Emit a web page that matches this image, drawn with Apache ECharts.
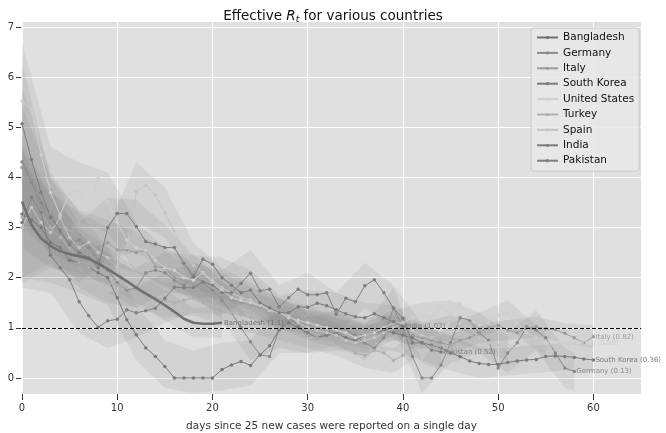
<!DOCTYPE html>
<html><head><meta charset="utf-8">
<script src="https://cdn.jsdelivr.net/npm/echarts@6/dist/echarts.min.js"></script>
<style>html,body{margin:0;padding:0;background:#fff}#c{width:666px;height:433px}</style>
</head><body><div id="c"></div>
<script>
// ---- data (day index starts at 0 for each series) ----
const countries = ['Bangladesh','Germany','Italy','South Korea','United States','Turkey','Spain','India','Pakistan'];
const endLabels = ['Bangladesh (1.1)','Germany (0.13)','Italy (0.82)','South Korea (0.36)','United States (0.69)','Turkey (0.61)','Spain (0.59)','India (1.03)','Pakistan (0.52)'];

const bangladesh = [3.52,3.05,2.78,2.63,2.53,2.47,2.43,2.38,2.28,2.17,2.05,1.93,1.8,1.68,1.57,1.45,1.32,1.18,1.1,1.08,1.08,1.1];
const germany = [4.31,3.9,3.5,3.3,2.9,2.7,2.75,2.6,2.35,2.15,1.9,1.75,1.8,2.1,2.15,2.1,1.95,1.85,2.05,1.9,1.75,1.55,1.3,1.0,0.72,0.46,0.43,0.96,1.2,1.05,0.85,0.8,0.9,1.0,0.95,0.85,0.7,0.6,0.8,1.4,1.02,0.43,0.0,0.0,0.26,0.7,1.2,1.15,0.9,0.75,0.2,0.5,0.7,1.02,0.95,0.8,0.5,0.2,0.13];
const italy = [4.2,3.75,3.6,3.3,3.1,3.0,2.85,2.7,2.6,2.7,2.55,2.55,2.5,2.55,2.22,2.2,2.0,1.95,1.85,1.75,1.7,1.6,1.55,1.5,1.45,1.4,1.35,1.3,1.2,1.15,1.2,1.1,1.05,1.0,0.95,0.9,0.85,0.9,1.0,0.95,0.9,0.85,0.8,0.75,0.7,0.65,0.75,0.8,0.9,1.0,1.05,0.95,0.9,1.0,1.02,0.98,0.96,0.89,0.8,0.7,0.82];
const southKorea = [3.27,3.15,3.0,2.7,2.6,2.35,2.3,2.2,2.1,2.0,1.6,1.16,0.86,0.6,0.43,0.23,0,0,0,0,0,0.17,0.26,0.33,0.25,0.46,0.64,0.96,1.1,1.0,0.9,0.8,0.85,0.9,0.8,0.75,0.85,0.9,0.95,0.9,0.85,0.8,0.7,0.65,0.6,0.5,0.43,0.34,0.29,0.27,0.27,0.31,0.34,0.36,0.37,0.43,0.44,0.43,0.41,0.38,0.36];
const unitedStates = [5.52,5.35,4.45,3.7,3.25,3.7,3.74,3.3,3.99,3.52,3.1,2.75,2.6,2.55,2.35,2.2,2.15,2.0,1.95,2.1,1.9,1.75,1.6,1.55,1.5,1.45,1.35,1.3,1.2,1.15,1.1,1.05,1.0,0.95,0.9,0.8,0.85,0.9,1.0,1.1,1.1,1.2,1.25,1.2,1.42,1.28,1.49,1.2,1.05,1.1,1.25,1.28,1.1,0.9,0.8,0.69];
const turkey = [3.2,3.6,3.3,3.0,2.8,2.6,2.3,2.2,2.0,1.9,1.85,1.8,1.75,1.7,1.6,1.55,1.5,1.55,1.6,1.5,1.4,1.35,1.3,1.25,1.2,1.1,1.05,1.0,0.95,0.9,0.85,0.8,0.75,0.7,0.6,0.5,0.45,0.55,0.5,0.35,0.45,0.61];
const spain = [3.0,3.4,3.1,2.9,3.2,2.8,2.6,2.7,2.5,2.4,2.2,2.6,3.72,3.84,3.65,3.29,2.92,2.52,2.25,2.1,1.95,1.8,1.7,1.6,1.55,1.45,1.35,1.3,1.25,1.1,1.0,0.95,0.9,0.85,0.75,0.7,0.75,0.8,0.9,1.0,1.1,0.95,0.85,0.8,0.9,1.0,1.1,1.0,0.8,0.7,0.65,0.59];
const india = [5.07,4.35,3.7,3.2,2.95,2.65,2.5,2.4,2.2,3.0,3.28,3.28,3.02,2.72,2.67,2.6,2.6,2.29,2.02,2.37,2.27,2.0,1.85,1.7,1.75,1.5,1.4,1.3,1.3,1.42,1.41,1.49,1.44,1.36,1.28,1.22,1.2,1.28,1.2,1.12,1.03];
const pakistan = [3.1,3.6,3.3,2.45,2.2,1.96,1.52,1.24,1.01,1.14,1.17,1.36,1.3,1.34,1.39,1.59,1.81,1.8,1.8,1.92,1.85,1.7,1.7,1.89,2.09,1.74,1.77,1.42,1.6,1.77,1.66,1.66,1.7,1.27,1.59,1.52,1.84,1.96,1.7,1.39,1.19,0.7,0.7,0.56,0.52];

// credible bands: [day, low, high]
const bangladeshBand = [[0,2.6,4.6],[3,2.2,3.1],[6,2.1,2.8],[9,1.85,2.5],[12,1.5,2.1],[15,1.15,1.75],[18,0.8,1.4],[21,0.8,1.4]];
const germanyBand = [[0,3.0,5.8],[3,2.5,4.1],[6,2.2,3.3],[9,1.7,2.6],[12,1.4,2.2],[15,1.7,2.5],[18,1.65,2.45],[21,1.15,1.95],[24,0.35,1.1],[27,0.6,1.3],[30,0.5,1.2],[33,0.65,1.35],[36,0.35,1.05],[39,1.0,1.8],[42,-0.3,0.35],[45,0.3,1.1],[48,0.5,1.3],[51,0.1,0.9],[54,0.55,1.35],[57,-0.2,0.6],[58,-0.25,0.5]];
const italyBand = [[0,3.1,5.4],[3,2.6,4.0],[6,2.35,3.35],[9,2.25,3.15],[12,2.1,2.9],[15,1.85,2.55],[18,1.55,2.15],[21,1.3,1.9],[24,1.2,1.7],[27,1.05,1.55],[30,0.95,1.45],[33,0.8,1.2],[36,0.65,1.05],[39,0.75,1.15],[42,0.6,1.0],[45,0.45,0.85],[48,0.7,1.1],[51,0.75,1.15],[54,0.82,1.22],[57,0.69,1.09],[60,0.6,1.05]];
const southKoreaBand = [[0,2.0,4.7],[3,1.9,3.6],[6,1.7,3.0],[9,1.45,2.6],[12,0.35,1.45],[15,-0.2,0.75],[18,-0.3,0.55],[21,-0.25,0.7],[24,-0.15,0.75],[27,0.5,1.45],[30,0.5,1.35],[33,0.55,1.3],[36,0.5,1.2],[39,0.55,1.25],[42,0.35,1.05],[45,0.15,0.85],[48,0.0,0.6],[51,0.05,0.6],[54,0.1,0.65],[57,0.15,0.7],[60,0.1,0.65]];
const unitedStatesBand = [[0,4.3,6.7],[3,2.9,4.6],[6,3.1,4.3],[9,2.9,4.1],[12,2.1,3.1],[15,1.8,2.6],[18,1.6,2.3],[21,1.4,2.1],[24,1.2,1.8],[27,1.0,1.6],[30,0.85,1.35],[33,0.7,1.2],[36,0.6,1.1],[39,0.85,1.35],[42,1.0,1.5],[45,1.05,1.55],[48,0.8,1.3],[51,1.0,1.55],[54,0.55,1.05],[55,0.45,0.95]];
const turkeyBand = [[0,2.0,4.5],[3,2.3,3.8],[6,1.8,2.9],[9,1.5,2.4],[12,1.4,2.15],[15,1.2,1.9],[18,1.25,1.95],[21,1.05,1.7],[24,0.9,1.5],[27,0.75,1.3],[30,0.6,1.1],[33,0.45,0.95],[36,0.2,0.7],[39,0.1,0.6],[41,0.35,0.85]];
const spainBand = [[0,1.9,4.3],[3,2.2,3.7],[6,2.0,3.3],[9,1.9,3.0],[12,3.1,4.3],[15,2.8,3.8],[18,1.85,2.7],[21,1.45,2.2],[24,1.2,1.9],[27,1.0,1.6],[30,0.75,1.3],[33,0.6,1.1],[36,0.5,1.0],[39,0.75,1.3],[42,0.6,1.1],[45,0.75,1.25],[48,0.55,1.05],[51,0.35,0.85]];
const indiaBand = [[0,3.6,6.3],[3,2.4,4.0],[6,1.9,3.1],[9,2.4,3.6],[12,2.5,3.55],[15,2.15,3.05],[18,1.6,2.45],[21,1.6,2.4],[24,1.35,2.15],[27,0.95,1.65],[30,1.05,1.75],[33,1.0,1.7],[36,0.9,1.5],[39,0.8,1.45],[40,0.7,1.35]];
const pakistanBand = [[0,1.8,4.4],[3,1.7,3.2],[6,0.9,2.15],[9,0.6,1.7],[12,0.8,1.8],[15,1.1,2.1],[18,1.3,2.3],[21,1.25,2.15],[24,1.6,2.55],[27,1.0,1.85],[30,1.25,2.1],[33,0.85,1.7],[36,1.4,2.3],[39,0.95,1.85],[42,0.3,1.1],[44,0.15,0.9]];

// ---- styling ----
const seriesValues = [bangladesh,germany,italy,southKorea,unitedStates,turkey,spain,india,pakistan];
const seriesBands = [bangladeshBand,germanyBand,italyBand,southKoreaBand,unitedStatesBand,turkeyBand,spainBand,indiaBand,pakistanBand];
const colors = ['#707070','#8a8a8a','#9c9c9c','#7a7a7a','#cfcfcf','#afafaf','#c4c4c4','#7c7c7c','#7f7f7f'];
const FONT = 'DejaVu Sans';

// layout of plot area: x 0..65, y -0.32..7.1
const X_MAX = 65, Y_MIN = -0.32, Y_MAX = 7.1;
const W = 666, H = 433, LEFT = 22, RIGHT = 25, TOP = 22, BOTTOM = 39;
const pxPerY = (H - TOP - BOTTOM) / (Y_MAX - Y_MIN);
const pxPerX = (W - LEFT - RIGHT) / X_MAX;
const yTickTop = TOP + (Y_MAX - 7) * pxPerY, yTickBottom = BOTTOM + (0 - Y_MIN) * pxPerY;
const xTickRight = RIGHT + (X_MAX - 60) * pxPerX;

const series = [];
seriesBands.forEach(function(band, k){
  series.push({
    type: 'custom', name: 'band-' + countries[k], silent: true, z: 1, clip: true,
    data: [[band[0][0], band[0][1]]], encode: {x: 0, y: 1},
    renderItem: function(params, api){
      const pts = [];
      for (let i = 0; i < band.length; i++) pts.push(api.coord([band[i][0], band[i][2]]));
      for (let i = band.length - 1; i >= 0; i--) pts.push(api.coord([band[i][0], band[i][1]]));
      return {type: 'polygon', shape: {points: pts}, style: {fill: 'rgba(120,120,120,0.13)'}};
    }
  });
});
seriesValues.forEach(function(vals, k){
  const isB = k === 0;
  const s = {
    type: 'line', name: countries[k], z: isB ? 4 : 3,
    data: vals.map(function(v, i){ return [i, v]; }),
    symbol: isB ? 'none' : 'circle', symbolSize: 3.5, showAllSymbol: true,
    lineStyle: {color: colors[k], width: isB ? 2.6 : 1},
    itemStyle: {color: colors[k]},
    emphasis: {disabled: true},
    endLabel: {show: true, formatter: endLabels[k], fontSize: 7, fontFamily: FONT, color: colors[k], distance: 2}
  };
  if (k === 0) {
    s.markLine = {silent: true, symbol: ['none','none'], label: {show: false},
      lineStyle: {color: '#000', type: [4,2], width: 1}, data: [{yAxis: 1}]};
  }
  series.push(s);
});

const tickLine = {show: true, lineStyle: {color: '#333333', width: 1}};
const chart = echarts.init(document.getElementById('c'), null, {renderer: 'canvas'});
chart.setOption({
  animation: false,
  backgroundColor: '#ffffff',
  title: {
    text: 'Effective {i|R}{s|t} for various countries',
    left: 'center', top: 3,
    textStyle: {fontSize: 13.5, fontWeight: 'normal', color: '#111', fontFamily: FONT,
      rich: {i: {fontStyle: 'italic', fontSize: 13.5, fontFamily: FONT, color: '#111'},
             s: {fontStyle: 'italic', fontSize: 9, fontFamily: FONT, color: '#111', padding: [7,0,0,0]}}}
  },
  legend: {
    data: countries, orient: 'vertical', left: 531, top: 28,
    backgroundColor: 'rgba(232,232,232,0.85)', borderColor: '#c8c8c8', borderWidth: 1, borderRadius: 3,
    padding: [3, 5, 4, 5], itemGap: 2.4, itemWidth: 21, itemHeight: 4,
    textStyle: {fontSize: 10.5, fontFamily: FONT, color: '#111', lineHeight: 13}
  },
  grid: [
    // 0: data plot
    {left: LEFT, right: RIGHT, top: TOP, bottom: BOTTOM, show: true, backgroundColor: '#e0e0e0', borderWidth: 0,
      containLabel: false, outerBoundsMode: 'none'},
    // 1: 0..7 value axis (labels + white grid lines)
    {left: LEFT, right: RIGHT, top: yTickTop, bottom: yTickBottom, show: false, containLabel: false, outerBoundsMode: 'none'},
    // 2: x tick marks strip
    {left: LEFT, right: xTickRight, top: H - BOTTOM, height: 6, show: false, containLabel: false, outerBoundsMode: 'none'},
    // 3: y tick marks strip
    {left: LEFT - 6, right: W - LEFT + 1, top: yTickTop, bottom: yTickBottom, show: false, containLabel: false, outerBoundsMode: 'none'}
  ],
  xAxis: [{
    type: 'value', min: 0, max: X_MAX, interval: 10, gridIndex: 0,
    name: 'days since 25 new cases were reported on a single day', nameLocation: 'middle', nameGap: 27,
    nameTextStyle: {fontSize: 10.5, fontFamily: FONT, color: '#333'},
    axisLine: {show: false, onZero: false},
    axisTick: {show: false},
    axisLabel: {fontSize: 10, fontFamily: FONT, color: '#333', margin: 9, showMaxLabel: false},
    splitLine: {show: true, lineStyle: {color: '#ffffff', width: 1}}
  }, {
    type: 'value', min: 0, max: X_MAX, gridIndex: 1, show: false
  }, {
    type: 'value', min: 0, max: 60, interval: 10, gridIndex: 2,
    axisLine: {show: false, onZero: false}, axisTick: {show: false}, axisLabel: {show: false},
    splitLine: tickLine
  }, {
    type: 'value', min: 0, max: 1, gridIndex: 3, show: false
  }],
  yAxis: [{
    type: 'value', min: Y_MIN, max: Y_MAX, gridIndex: 0,
    axisLine: {show: false, onZero: false}, axisTick: {show: false}, axisLabel: {show: false},
    splitLine: {show: false}
  }, {
    type: 'value', min: 0, max: 7, interval: 1, gridIndex: 1,
    axisLine: {show: false, onZero: false}, axisTick: {show: false},
    axisLabel: {fontSize: 10, fontFamily: FONT, color: '#333', margin: 8},
    splitLine: {show: true, lineStyle: {color: '#ffffff', width: 1}}
  }, {
    type: 'value', min: 0, max: 1, gridIndex: 2, show: false
  }, {
    type: 'value', min: 0, max: 7, interval: 1, gridIndex: 3,
    axisLine: {show: false, onZero: false}, axisTick: {show: false}, axisLabel: {show: false},
    splitLine: tickLine
  }],
  series: series
});
</script></body></html>
